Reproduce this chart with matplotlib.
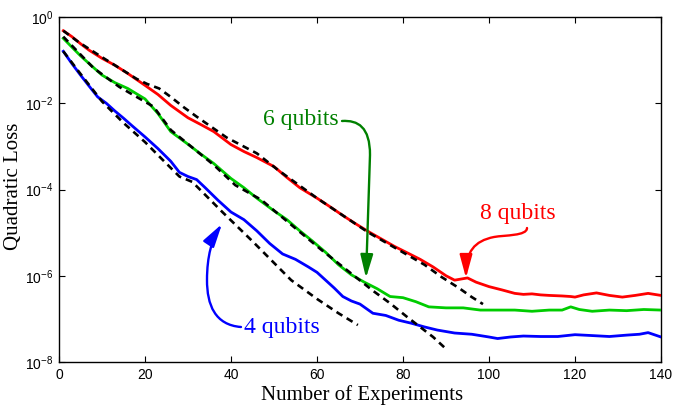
import matplotlib
matplotlib.use("Agg")
import matplotlib.pyplot as plt
import numpy as np
from matplotlib.path import Path
from matplotlib.patches import FancyArrowPatch
from matplotlib.ticker import NullLocator, FixedLocator, FixedFormatter

# ---------------- data ----------------
n8 = [1, 3, 5, 7, 10, 13, 16, 20, 23, 26, 30, 33, 36, 40, 43, 46, 50, 53, 56, 60,
      63, 66, 69, 72, 75, 78, 81, 84, 87, 90, 92, 95, 97, 100, 103, 106, 108, 110,
      112, 114, 117, 119, 120, 122, 125, 128, 130, 131, 134, 137, 140]
loss8 = [4.8e-1, 3.5e-1, 2.4e-1, 1.7e-1, 1.1e-1, 7.6e-2, 4.9e-2, 2.6e-2, 1.6e-2,
         8.9e-3, 4.6e-3, 3.2e-3, 2.2e-3, 1.1e-3, 7.6e-4, 5.5e-4, 3.4e-4, 1.9e-4,
         1.1e-4, 6.3e-5, 4.0e-5, 2.5e-5, 1.6e-5, 1.05e-5, 7.1e-6, 4.8e-6, 3.4e-6,
         2.4e-6, 1.6e-6, 1.0e-6, 7.9e-7, 8.9e-7, 7.1e-7, 5.6e-7, 4.7e-7, 3.9e-7,
         3.7e-7, 3.8e-7, 3.6e-7, 3.5e-7, 3.4e-7, 3.3e-7, 3.2e-7, 3.6e-7, 4.0e-7,
         3.5e-7, 3.3e-7, 3.2e-7, 3.5e-7, 3.9e-7, 3.5e-7]

n6 = [1, 3, 5, 7, 10, 13, 16, 20, 23, 26, 30, 33, 36, 40, 43, 46, 50, 53, 56, 59,
      62, 65, 68, 71, 74, 77, 80, 83, 86, 90, 94, 98, 102, 106, 110, 114, 117, 119,
      121, 124, 128, 132, 136, 140]
loss6 = [3.2e-1, 2.0e-1, 1.26e-1, 8.3e-2, 4.5e-2, 3.0e-2, 2.2e-2, 1.26e-2, 5.8e-3,
         2.2e-3, 1.12e-3, 6.6e-4, 4.0e-4, 1.8e-4, 1.1e-4, 6.3e-5, 3.2e-5, 2.0e-5,
         1.1e-5, 6.3e-6, 3.5e-6, 1.8e-6, 1.05e-6, 7.1e-7, 5.0e-7, 3.3e-7, 3.1e-7,
         2.5e-7, 1.9e-7, 1.8e-7, 1.8e-7, 1.6e-7, 1.6e-7, 1.6e-7, 1.5e-7, 1.6e-7,
         1.6e-7, 1.9e-7, 1.65e-7, 1.5e-7, 1.6e-7, 1.55e-7, 1.65e-7, 1.6e-7]

n4 = [1, 3, 5, 7, 9, 11, 13, 15, 17, 20, 23, 26, 28, 30, 32, 34, 37, 40, 43, 46, 49,
      52, 55, 58, 60, 62, 64, 66, 68, 70, 73, 76, 79, 82, 85, 88, 92, 96, 100, 102,
      105, 108, 112, 116, 120, 124, 128, 132, 135, 137, 140]
loss4 = [1.6e-1, 8.3e-2, 4.5e-2, 2.5e-2, 1.4e-2, 1.0e-2, 6.6e-3, 4.5e-3, 3.0e-3,
         1.66e-3, 8.9e-4, 4.5e-4, 2.5e-4, 2.0e-4, 1.7e-4, 1.1e-4, 5.6e-5, 3.0e-5,
         2.0e-5, 1.1e-5, 5.6e-6, 3.2e-6, 2.4e-6, 1.6e-6, 1.2e-6, 7.9e-7, 5.2e-7,
         3.3e-7, 2.6e-7, 2.2e-7, 1.35e-7, 1.2e-7, 9.3e-8, 7.9e-8, 6.5e-8, 5.5e-8,
         4.7e-8, 4.4e-8, 3.8e-8, 3.5e-8, 3.8e-8, 4.0e-8, 3.9e-8, 3.9e-8, 4.3e-8,
         4.1e-8, 3.9e-8, 4.2e-8, 4.4e-8, 4.8e-8, 3.8e-8]

# dashed (model) curves
nd8 = [1, 4.6, 10, 18, 20.5, 23.3, 26, 29, 32, 39, 46, 51, 60, 72, 85, 89, 93, 96,
       98.6]
fit8 = [4.8e-1, 2.6e-1, 1.17e-1, 3.7e-2, 2.8e-2, 2.2e-2, 1.4e-2, 8.1e-3, 4.9e-3,
        1.6e-3, 6.9e-4, 2.8e-4, 6.3e-5, 1.0e-5, 1.8e-6, 9.3e-7, 5.2e-7, 3.2e-7,
        2.2e-7]

nd6 = [1, 8, 14, 22, 26, 36, 41, 47, 61, 73, 77, 81, 87, 89.8]
fit6 = [3.5e-1, 6.6e-2, 2.4e-2, 8.3e-3, 2.4e-3, 3.7e-4, 1.26e-4, 5.8e-5, 4.0e-6,
        4.5e-7, 2.3e-7, 1.1e-7, 3.8e-8, 2.1e-8]

nd4 = [1, 5, 10, 15, 20, 24, 28, 31, 38, 45, 54, 60, 65, 69.5]
fit4 = [1.6e-1, 4.8e-2, 1.1e-2, 3.5e-3, 1.26e-3, 5.0e-4, 2.0e-4, 1.5e-4, 3.0e-5,
        6.3e-6, 7.9e-7, 2.9e-7, 1.35e-7, 7.2e-8]

xticks = [0, 20, 40, 60, 80, 100, 120, 140]
yticks = [1e-8, 1e-6, 1e-4, 1e-2, 1e0]
ytick_labels = [r"$10^{-8}$", r"$10^{-6}$", r"$10^{-4}$", r"$10^{-2}$", r"$10^{0}$"]

# ---------------- style ----------------
plt.rcParams["font.family"] = ["Liberation Sans", "DejaVu Sans"]
plt.rcParams["mathtext.fontset"] = "custom"
plt.rcParams["mathtext.rm"] = "Liberation Sans"
plt.rcParams["mathtext.it"] = "Liberation Sans:italic"
plt.rcParams["mathtext.default"] = "regular"

RED = "#ff0000"
GREEN = "#00cc00"
BLUE = "#0000ff"
DGREEN = "#008000"
SERIF = ["Liberation Serif", "DejaVu Serif"]

W, H = 686, 407
fig = plt.figure(figsize=(W / 100, H / 100), dpi=100)
L, R, T, B = 59, 661, 17, 362
ax = fig.add_axes([L / W, 1 - B / H, (R - L) / W, (B - T) / H])

ax.plot(n8, loss8, color=RED, lw=2.0, zorder=3)
ax.plot(n6, loss6, color=GREEN, lw=2.0, zorder=3)
ax.plot(n4, loss4, color=BLUE, lw=2.0, zorder=3)
for nn, ff in [(nd8, fit8), (nd6, fit6), (nd4, fit4)]:
    ax.plot(nn, ff, color="black", lw=1.9, ls=(0, (2.6, 1.9)), zorder=4)

ax.set_yscale("log")
ax.set_xlim(0, 140)
ax.set_ylim(1e-8, 1e0)
ax.xaxis.set_major_locator(FixedLocator(xticks))
ax.yaxis.set_major_locator(FixedLocator(yticks))
ax.yaxis.set_major_formatter(FixedFormatter(ytick_labels))
ax.yaxis.set_minor_locator(NullLocator())
ax.xaxis.set_minor_locator(NullLocator())
ax.tick_params(direction="in", length=4, width=0.8, top=True, right=True,
               labelsize=10, pad=4, colors="black")
for s in ax.spines.values():
    s.set_linewidth(1.0)

ax.set_xlabel("Number of Experiments", fontsize=15, family=SERIF)
ax.set_ylabel("Quadratic Loss", fontsize=15, family=SERIF)
ax.xaxis.set_label_coords(0.503, -0.068)
ax.yaxis.set_label_coords(-0.06, 0.51)


def px(x, y):
    return ((x - L) / (R - L), (B - y) / (B - T))


def curved_arrow(pts, codes, color):
    verts = [px(*p) for p in pts]
    path = Path(verts, codes)
    arr = FancyArrowPatch(path=path, transform=ax.transAxes,
                          arrowstyle="-|>,head_length=0.7,head_width=0.19",
                          mutation_scale=20, color=color, lw=1.7, zorder=5,
                          clip_on=False)
    ax.add_patch(arr)


C4 = Path.CURVE4
# 6 qubits
ax.text(*px(339, 120), "6 qubits", transform=ax.transAxes, fontsize=17,
        family=SERIF, color=DGREEN, ha="right", va="center")
curved_arrow([(342, 121), (358, 120), (370, 127), (370, 155), (366, 278)],
             [Path.MOVETO, C4, C4, C4, Path.LINETO], DGREEN)
# 8 qubits
ax.text(*px(518, 214), "8 qubits", transform=ax.transAxes, fontsize=17,
        family=SERIF, color=RED, ha="center", va="center")
curved_arrow([(527, 228), (527, 236), (505, 235), (494, 237),
              (474, 241), (466, 252), (466, 278)],
             [Path.MOVETO, C4, C4, C4, C4, C4, C4], RED)
# 4 qubits
ax.text(*px(282, 327), "4 qubits", transform=ax.transAxes, fontsize=17,
        family=SERIF, color=BLUE, ha="center", va="center")
curved_arrow([(241, 327), (215, 325), (207, 305), (207, 280),
              (207, 256), (212, 239), (222, 224)],
             [Path.MOVETO, C4, C4, C4, C4, C4, C4], BLUE)

fig.savefig("out.png", dpi=100)
